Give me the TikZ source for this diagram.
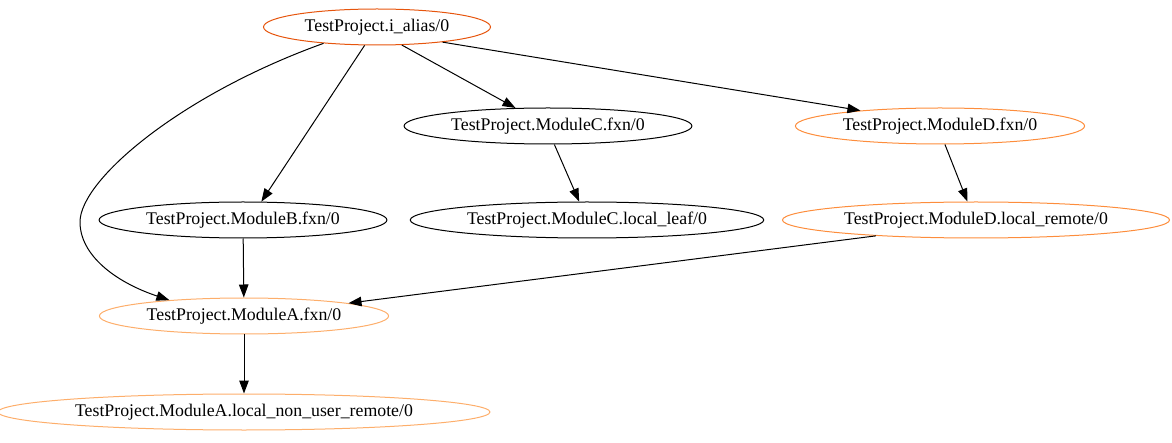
\documentclass[tikz,border=0pt]{standalone}
\usepackage{fontspec}
\setmainfont{Liberation Serif}
\usepackage{tikz}
\usetikzlibrary{shapes.geometric,arrows.meta,calc}

\definecolor{orangedark}{HTML}{E6550D}
\definecolor{orangemid}{HTML}{FD8D3C}
\definecolor{orangelight}{HTML}{FDAE6B}

\begin{document}
\begin{tikzpicture}[x=1pt, y=-1pt,
  fn/.style={ellipse, draw, line width=1pt, text centered, minimum height=36pt, inner xsep=5pt, inner ysep=0pt, font=\fontsize{17.8}{20}\selectfont},
  call/.style={-{Triangle[length=13pt,width=9.5pt]}, line width=1pt, black}]

\useasboundingbox (0,0) rectangle (1172,443);

%nodes
\node [fn, draw=orangedark, minimum width=227pt] at (377,27)(alias){TestProject.i\_alias/0};

\node [fn] at (548,126)(cfxn){TestProject.ModuleC.fxn/0};
\node [fn, draw=orangemid] at (940,126)(dfxn){TestProject.ModuleD.fxn/0};

\node [fn] at (243,220)(bfxn){TestProject.ModuleB.fxn/0};
\node [fn] at (587,220)(cleaf){TestProject.ModuleC.local\_leaf/0};
\node [fn, draw=orangemid] at (976,220)(dremote){TestProject.ModuleD.local\_remote/0};

\node [fn, draw=orangelight] at (244,316)(afxn){TestProject.ModuleA.fxn/0};
\node [fn, draw=orangelight] at (244,412)(aremote){TestProject.ModuleA.local\_non\_user\_remote/0};

%edges
\draw [call] (alias.236) -- (bfxn.45);
\draw [call] (alias.324) -- (cfxn.151);
\draw [call] (alias.347) -- (dfxn.169);
\draw [call] (alias.197) .. controls (180,95) and (80,180) .. (80,222) .. controls (80,255) and (115,282) .. (afxn.168);

\draw [call] (cfxn.289) -- (cleaf.113);
\draw [call] (dfxn.285) -- (dremote.115);

\draw [call] (bfxn) -- (afxn);
\draw [call] (dremote.189) -- (afxn.7);
\draw [call] (afxn) -- (aremote);

\end{tikzpicture}
\end{document}
